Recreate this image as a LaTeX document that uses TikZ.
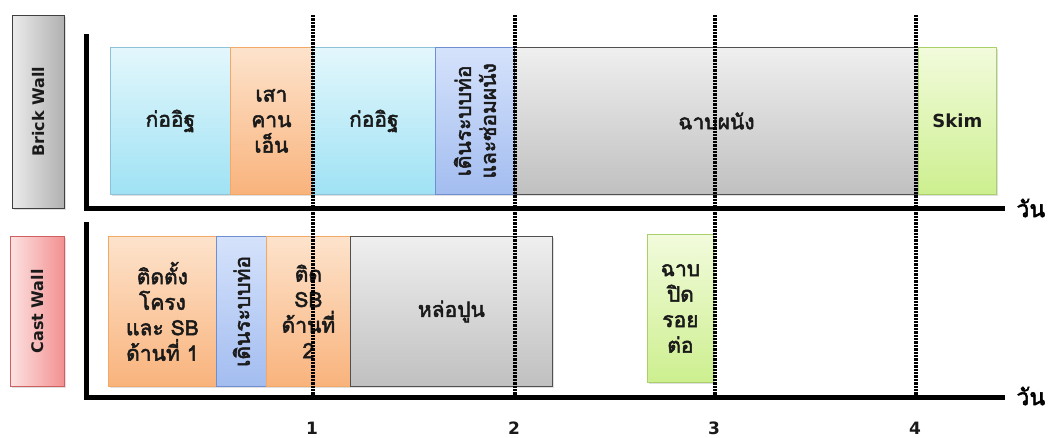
\documentclass[tikz,border=0pt]{standalone}
\usepackage{fontspec}
\newfontfamily\thai[Script=Thai, FakeBold=2.4]{Loma}
\newfontfamily\latb{DejaVu Sans Bold}
\usetikzlibrary{shadows}
\definecolor{cyT}{HTML}{E3F7FC}\definecolor{cyB}{HTML}{9FE2F4}\definecolor{cyD}{HTML}{8CC3D6}
\definecolor{orT}{HTML}{FDE3CC}\definecolor{orB}{HTML}{F9B37C}\definecolor{orD}{HTML}{F2A968}
\definecolor{blT}{HTML}{D5E2FB}\definecolor{blB}{HTML}{A3BDF0}\definecolor{blD}{HTML}{6F8FD0}
\definecolor{grT}{HTML}{EFEFEF}\definecolor{grB}{HTML}{C0C0C0}\definecolor{grD}{HTML}{505050}
\definecolor{gnT}{HTML}{F2FBDC}\definecolor{gnB}{HTML}{CDEF8F}\definecolor{gnD}{HTML}{A9D06A}
\definecolor{lgL}{HTML}{EBEBEB}\definecolor{lgR}{HTML}{B0B0B0}\definecolor{lgD}{HTML}{404040}
\definecolor{pkL}{HTML}{FDE2E2}\definecolor{pkR}{HTML}{F29090}\definecolor{pkD}{HTML}{D06060}
\definecolor{txt}{HTML}{1A1A1A}
\tikzset{
  task/.style={draw, line width=0.8pt, anchor=north west, inner sep=0pt, align=center,
    text=txt, font=\thai\fontsize{21}{25.5}\selectfont,
    drop shadow={opacity=0.25, shadow xshift=1.5pt, shadow yshift=-1.5pt}},
  cyanbox/.style={task, top color=cyT, bottom color=cyB, draw=cyD},
  orangebox/.style={task, top color=orT, bottom color=orB, draw=orD},
  bluebox/.style={task, top color=blT, bottom color=blB, draw=blD},
  graybox/.style={task, top color=grT, bottom color=grB, draw=grD},
  greenbox/.style={task, top color=gnT, bottom color=gnB, draw=gnD},
  wallbox/.style={draw, line width=0.8pt, anchor=north west, inner sep=0pt,
    drop shadow={opacity=0.25, shadow xshift=1.5pt, shadow yshift=-1.5pt}},
  walltext/.style={rotate=90, text=txt, font=\latb\fontsize{16}{18}\selectfont},
  vtext/.style={rotate=90, align=center, text=txt, font=\thai\fontsize{21}{25}\selectfont},
  axis/.style={line width=5pt},
  grid/.style={line width=3.2pt, dash pattern=on 2.4pt off 1pt},
  daylabel/.style={font=\thai\fontsize{23}{25}\selectfont},
  tick/.style={inner sep=0pt, text=txt, font=\latb\fontsize{17}{18}\selectfont}
}
\begin{document}
\begin{tikzpicture}[x=1pt,y=-1pt]
\useasboundingbox (0,0) rectangle (1059,437);
% wall labels
\node[wallbox, left color=lgL, right color=lgR, draw=lgD, minimum width=52pt, minimum height=193pt] (brick) at (12,15) {};
\node[walltext] (bricktxt) at (brick.center) {Brick Wall};
\node[wallbox, left color=pkL, right color=pkR, draw=pkD, minimum width=54pt, minimum height=150pt] (cast) at (10,236) {};
\node[walltext] (casttxt) at (cast.center) {Cast Wall};
% brick wall tasks
\node[cyanbox, minimum width=120pt, minimum height=147pt] (b1) at (110,47) {ก่ออิฐ};
\node[orangebox, minimum width=82pt, minimum height=147pt] (b2) at (230,47) {เสา\\คาน\\เอ็น};
\node[cyanbox, minimum width=123pt, minimum height=147pt] (b3) at (312,47) {ก่ออิฐ};
\node[bluebox, minimum width=79pt, minimum height=147pt] (b4) at (435,47) {};
\node[vtext] (b4t) at (b4.center) {เดินระบบท่อ\\และซ่อมผนัง};
\node[graybox, minimum width=404pt, minimum height=147pt] (b5) at (514,47) {ฉาบผนัง};
\node[greenbox, minimum width=78pt, minimum height=147pt, font=\latb\fontsize{18}{20}\selectfont] (b6) at (918,47) {Skim};
% cast wall tasks
\node[orangebox, minimum width=108pt, minimum height=150pt] (c1) at (108,236) {ติดตั้ง\\โครง\\และ SB\\ด้านที่ 1};
\node[bluebox, minimum width=50pt, minimum height=150pt] (c2) at (216,236) {};
\node[vtext] (c2t) at (c2.center) {เดินระบบท่อ};
\node[orangebox, minimum width=84pt, minimum height=150pt] (c3) at (266,236) {ติด\\SB\\ด้านที่\\2};
\node[graybox, minimum width=202pt, minimum height=150pt] (c4) at (350,236) {หล่อปูน};
\node[greenbox, minimum width=66pt, minimum height=148pt] (c5) at (647,234) {ฉาบ\\ปิด\\รอย\\ต่อ};
% axes
\coordinate (ta0) at (86,34); \coordinate (tao) at (86,208); \coordinate (tae) at (1005,208);
\coordinate (ba0) at (86,222); \coordinate (bao) at (86,397); \coordinate (bae) at (1005,397);
\draw[axis] (ta0) -- (tao) -- (tae);
\draw[axis] (ba0) -- (bao) -- (bae);
\node[daylabel, anchor=west] (day1) at (1013,208) {วัน};
\node[daylabel, anchor=west] (day2) at (1013,396) {วัน};
% grid lines
\foreach \i/\x in {1/313,2/515,3/715,4/916}{
  \coordinate (g\i t) at (\x,15);
  \coordinate (g\i b) at (\x,397);
  \draw[grid] (g\i t) -- (g\i b);
  \node[tick] (n\i) at (\x-1,428) {\i};
}
\end{tikzpicture}
\end{document}
